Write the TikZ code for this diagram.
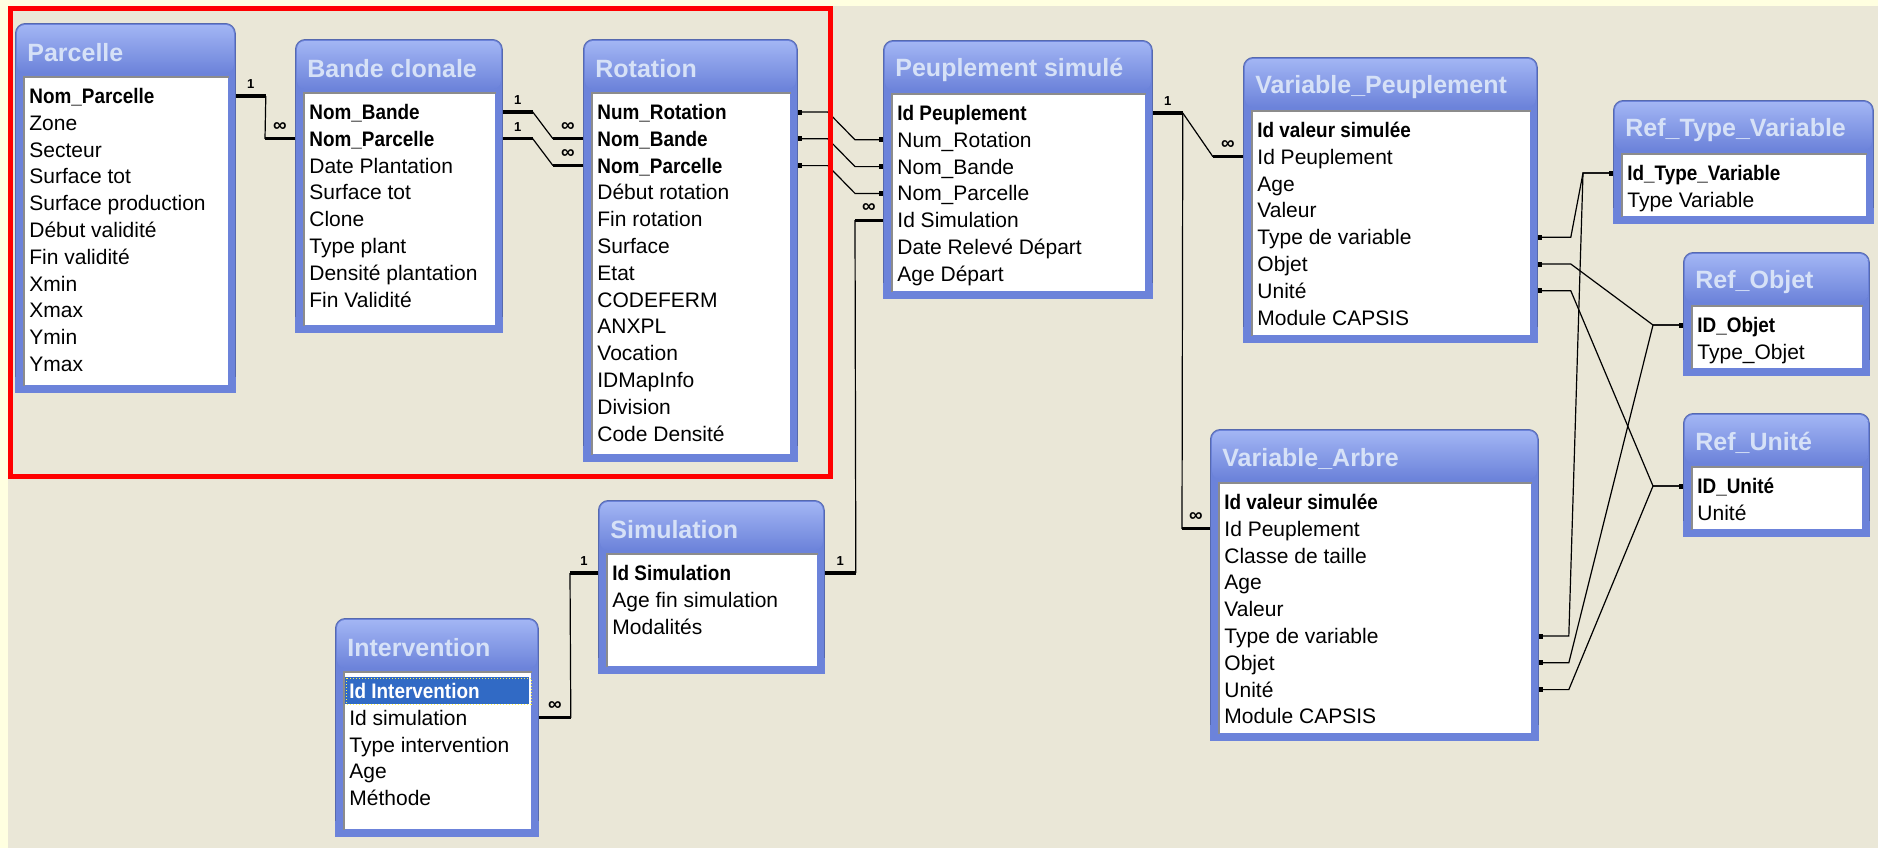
\documentclass[tikz,border=0pt]{standalone}
\usepackage{fontspec}
\setmainfont{Liberation Sans}
\newfontfamily\keyfont[FakeStretch=0.9]{Liberation Sans}
\usetikzlibrary{calc,arrows.meta}

\definecolor{deskbg}{HTML}{EAE7D7}
\definecolor{paleyellow}{HTML}{FFFFE0}
\definecolor{framecol}{HTML}{6C83DA}
\definecolor{titletop}{HTML}{A2B5F4}
\definecolor{titletext}{HTML}{D6E1F7}
\definecolor{selblue}{HTML}{316AC5}
\definecolor{sunken}{HTML}{8C8C8C}

\newcommand{\kf}{\keyfont\bfseries}
\newcommand{\selfield}[1]{{\setlength{\fboxsep}{0pt}\hspace*{-2pt}\colorbox{selblue}{\rule[-2.5pt]{0pt}{13.5pt}\hspace{2pt}\makebox[90pt][l]{\color{white}\kf #1}}}}

\tikzset{
    tframe/.style={rectangle, fill=framecol, draw=framecol!80!black, line width=0.4pt, rounded corners=5pt, anchor=north west, inner sep=0pt},
    titlebar/.style={top color=titletop, bottom color=framecol, rounded corners=4pt},
    fieldbox/.style={rectangle, fill=white, anchor=north west, inner sep=0pt},
    ttitle/.style={anchor=west, inner sep=0pt, text=titletext, font=\bfseries\fontsize{12.5}{14}\selectfont},
    field/.style={anchor=west, inner sep=0pt, text height=7.5pt, text depth=0pt, font=\fontsize{10.5}{12}\selectfont},
    stub/.style={line width=1.6pt},
    wire/.style={line width=0.6pt},
    link/.style={line width=0.6pt, {Square[length=2pt,width=2.5pt]}-{Square[length=2pt,width=2.5pt]}},
    one/.style={above=3pt, inner sep=0pt, font=\bfseries\fontsize{6.5}{7}\selectfont},
    many/.style={above=3pt, inner sep=0pt, font=\bfseries\fontsize{9.5}{10}\selectfont},
}

% #1 name, #2 title, #3 x, #4 y, #5 width, #6 height, #7 fields
\newcommand{\dbtable}[7]{%
    \node[tframe, minimum width=#5*0.5pt, minimum height=#6*0.5pt] (#1) at (#3,#4) {};
    \fill[framecol] ([yshift=8pt]#1.south west) rectangle (#1.south east);
    \shade[titlebar] ([shift={(2,2)}]#1.north west) rectangle ([shift={(-2,50)}]#1.north east);
    \node[ttitle] (#1-title) at ([shift={(12,30)}]#1.north west) {#2};
    \node[fieldbox, minimum width=(#5-16)*0.5pt, minimum height=(#6-61)*0.5pt] (#1-box) at ([shift={(9,54)}]#1.north west) {};
    \draw[sunken, line width=1pt] (#1-box.south west) -- (#1-box.north west) -- (#1-box.north east);
    \foreach \f [count=\i] in {#7}
        \node[field] (#1-\i) at ([shift={(14,{73+(\i-1)*26.8})}]#1.north west) {\f};
}

\begin{document}
\begin{tikzpicture}[x=0.5pt, y=-0.5pt]
    \useasboundingbox (0,0) rectangle (1878,848);
    \fill[paleyellow] (0,0) rectangle (1878,848);
    \fill[deskbg] (8,6) rectangle (1878,848);

    % tables
    \dbtable{par}{Parcelle}{15}{23}{220}{369}{{\kf Nom\_Parcelle}, Zone, Secteur, Surface tot, Surface production, Début validité, Fin validité, Xmin, Xmax, Ymin, Ymax}
    \dbtable{bc}{Bande clonale}{295}{39}{207}{293}{{\kf Nom\_Bande}, {\kf Nom\_Parcelle}, Date Plantation, Surface tot, Clone, Type plant, Densité plantation, Fin Validité}
    \dbtable{rot}{Rotation}{583}{39}{214}{422}{{\kf Num\_Rotation}, {\kf Nom\_Bande}, {\kf Nom\_Parcelle}, Début rotation, Fin rotation, Surface, Etat, CODEFERM, ANXPL, Vocation, IDMapInfo, Division, Code Densité}
    \dbtable{peu}{Peuplement simulé}{883}{40}{269}{258}{{\kf Id Peuplement}, Num\_Rotation, Nom\_Bande, Nom\_Parcelle, Id Simulation, Date Relevé Départ, Age Départ}
    \dbtable{vp}{Variable\_Peuplement}{1243}{57}{294}{285}{{\kf Id valeur simulée}, Id Peuplement, Age, Valeur, Type de variable, Objet, Unité, Module CAPSIS}
    \dbtable{va}{Variable\_Arbre}{1210}{429}{328}{311}{{\kf Id valeur simulée}, Id Peuplement, Classe de taille, Age, Valeur, Type de variable, Objet, Unité, Module CAPSIS}
    \dbtable{rtv}{Ref\_Type\_Variable}{1613}{100}{260}{123}{{\kf Id\_Type\_Variable}, Type Variable}
    \dbtable{ro}{Ref\_Objet}{1683}{252}{186}{123}{{\kf ID\_Objet}, Type\_Objet}
    \dbtable{ru}{Ref\_Unité}{1683}{413}{186}{123}{{\kf ID\_Unité}, Unité}
    \dbtable{sim}{Simulation}{598}{500}{226}{173}{{\kf Id Simulation}, Age fin simulation, Modalités}
    \dbtable{int}{Intervention}{335}{618}{203}{218}{{\selfield{Id Intervention}}, Id simulation, Type intervention, Age, Méthode}

    % one-to-many relations
    \draw[stub] (par.east |- par-1) -- node[one] {1} ++(30,0) coordinate (c1);
    \draw[stub] (bc.west |- bc-2) -- node[many] {∞} ++(-30,0) coordinate (c2);
    \draw[wire] (c1) -- (c2);

    \draw[stub] (bc.east |- bc-1) -- node[one] {1} ++(30,0) coordinate (c3);
    \draw[stub] (rot.west |- rot-2) -- node[many] {∞} ++(-30,0) coordinate (c4);
    \draw[wire] (c3) -- (c4);
    \draw[stub] (bc.east |- bc-2) -- node[one] {1} ++(30,0) coordinate (c5);
    \draw[stub] (rot.west |- rot-3) -- node[many] {∞} ++(-30,0) coordinate (c6);
    \draw[wire] (c5) -- (c6);

    \draw[stub] (sim.east |- sim-1) -- node[one] {1} ++(31,0) coordinate (c7);
    \draw[stub] (peu.west |- peu-5) -- node[many] {∞} ++(-28,0) coordinate (c8);
    \draw[wire] (c7) -- (c8);

    \draw[stub] (sim.west |- sim-1) -- node[one] {1} ++(-28,0) coordinate (c9);
    \draw[stub] (int.east |- int-2) -- node[many] {∞} ++(32,0) coordinate (c10);
    \draw[wire] (c9) -- (c10);

    \draw[stub] (peu.east |- peu-1) -- node[one] {1} ++(30,0) coordinate (c11);
    \draw[stub] (vp.west |- vp-2) -- node[many] {∞} ++(-30,0) coordinate (c12);
    \draw[wire] (c11) -- (c12);
    \draw[stub] (va.west |- va-2) -- node[many] {∞} ++(-28,0) coordinate (c13);
    \draw[wire] (c11) -- (c13);

    % plain joins
    \draw[link] (rot.east |- rot-1) -- ++(30,0) -- ($(peu.west |- peu-2)+(-28,0)$) -- (peu.west |- peu-2);
    \draw[link] (rot.east |- rot-2) -- ++(30,0) -- ($(peu.west |- peu-3)+(-28,0)$) -- (peu.west |- peu-3);
    \draw[link] (rot.east |- rot-3) -- ++(30,0) -- ($(peu.west |- peu-4)+(-28,0)$) -- (peu.west |- peu-4);

    \draw[link] (vp.east |- vp-5) -- ++(33,0) -- ($(rtv.west |- rtv-1)+(-30,0)$) -- (rtv.west |- rtv-1);
    \draw[link] (vp.east |- vp-6) -- ++(33,0) -- ($(ro.west |- ro-1)+(-30,0)$) -- (ro.west |- ro-1);
    \draw[link] (vp.east |- vp-7) -- ++(33,0) -- ($(ru.west |- ru-1)+(-30,0)$) -- (ru.west |- ru-1);
    \draw[link] (va.east |- va-6) -- ++(30,0) -- ($(rtv.west |- rtv-1)+(-30,0)$) -- (rtv.west |- rtv-1);
    \draw[link] (va.east |- va-7) -- ++(30,0) -- ($(ro.west |- ro-1)+(-30,0)$) -- (ro.west |- ro-1);
    \draw[link] (va.east |- va-8) -- ++(30,0) -- ($(ru.west |- ru-1)+(-30,0)$) -- (ru.west |- ru-1);

    % selected field focus and highlight frame
    \draw[yellow!70!white, densely dotted, line width=0.5pt] ([shift={(-3,-13)}]int-1.west) rectangle ([shift={(182,13)}]int-1.west);
    \draw[red, line width=2.5pt] (10.5,8.5) rectangle (830,476);
\end{tikzpicture}
\end{document}
